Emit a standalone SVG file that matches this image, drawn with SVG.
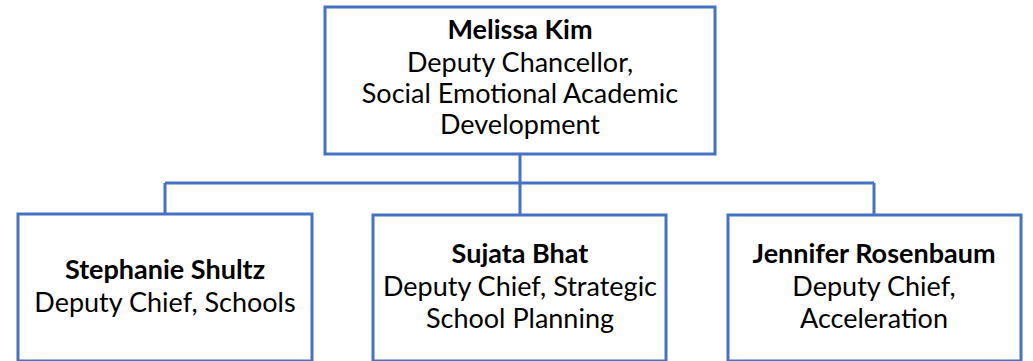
<svg xmlns="http://www.w3.org/2000/svg" width="1033" height="361" viewBox="0 0 1033 361">
<style>
.box{fill:#fff;stroke:#4472C4;stroke-width:3}
.conn{fill:none;stroke:#4472C4;stroke-width:3}
text{font-family:Lato,"Open Sans",sans-serif;font-size:27px;fill:#000;text-anchor:middle}
.b{font-weight:bold}
</style>
<rect width="1033" height="361" fill="#fff"/>
<g id="connectors">
<path class="conn" d="M520 154V183M165 183H874M165 183V214M520 183V215M874 183V215"/>
</g>
<g id="node-kim">
<rect class="box" x="325" y="7" width="390" height="147"/>
<text x="520" y="39" class="b">Melissa Kim</text>
<text x="520" y="72">Deputy Chancellor,</text>
<text x="520" y="103">Social Emotional Academic</text>
<text x="520" y="134">Development</text>
</g>
<g id="node-shultz">
<rect class="box" x="18" y="214" width="294" height="147"/>
<text x="165" y="279" class="b">Stephanie Shultz</text>
<text x="165" y="312">Deputy Chief, Schools</text>
</g>
<g id="node-bhat">
<rect class="box" x="373" y="215" width="293" height="146"/>
<text x="520" y="263" class="b">Sujata Bhat</text>
<text x="520" y="296">Deputy Chief, Strategic</text>
<text x="520" y="328">School Planning</text>
</g>
<g id="node-rosenbaum">
<rect class="box" x="728" y="215" width="293" height="146"/>
<text x="874" y="263" class="b">Jennifer Rosenbaum</text>
<text x="874" y="296">Deputy Chief,</text>
<text x="874" y="328">Acceleration</text>
</g>
</svg>
